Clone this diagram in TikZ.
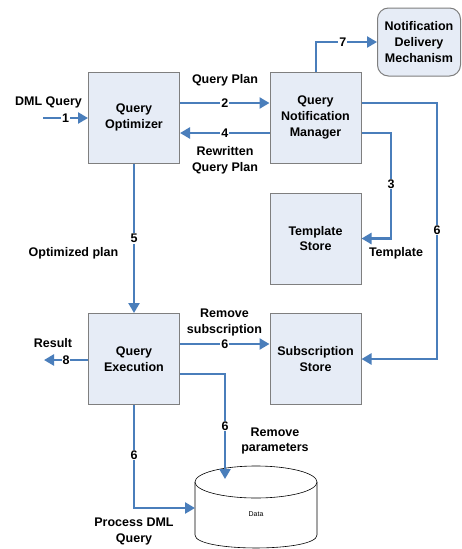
\documentclass[tikz,border=0pt]{standalone}
\usepackage{fontspec}
\setmainfont{Liberation Sans}
\usetikzlibrary{arrows.meta}
\definecolor{arrowblue}{HTML}{4A7EBB}
\definecolor{boxfill}{HTML}{E6ECF6}
\definecolor{boxline}{HTML}{7F7F7F}
\newcommand\dfont{\fontsize{12.5}{15.8}\selectfont\bfseries}
\newcommand\smallfont{\fontsize{7}{8}\selectfont}
\begin{document}
\begin{tikzpicture}[x=1pt,y=1pt,
  box/.style={draw=boxline, fill=boxfill, line width=1pt, minimum width=91pt, minimum height=91pt, align=center, font=\dfont, inner sep=0pt},
  conn/.style={draw=arrowblue, line width=2.6pt, -{Triangle[length=10pt,width=11pt]}},
  num/.style={fill=white, inner sep=1pt, font=\dfont},
  lbl/.style={align=center, font=\dfont, inner sep=0pt}]
\fill[white] (0,0) rectangle (461,-549);
\useasboundingbox (0,0) rectangle (461,-549);

% boxes
\node[box] (qo) at (134,-117.5) {Query\\Optimizer};
\node[box] (qnm) at (315.5,-117.5) {Query\\Notification\\Manager};
\node[box] (tpl) at (315.5,-238.5) {Template\\Store};
\node[box] (qe) at (134,-359) {Query\\Execution};
\node[box] (ss) at (315.5,-359) {Subscription\\Store};
\node[box, rounded corners=11pt, minimum width=83pt, minimum height=68pt] (nd) at (419,-42) {Notification\\Delivery\\Mechanism};

% data cylinder
\filldraw[draw=black, fill=white, line width=0.6pt] (195,-482) -- (195,-535) .. controls (195,-552.3) and (317,-552.3) .. (317,-535) -- (317,-482);
\draw[line width=0.6pt, fill=white] (256,-482) ellipse [x radius=61, y radius=16];
\node[font=\smallfont] (data) at (256,-514) {Data};
\coordinate (datat) at (225,-479);
\coordinate (datal) at (195,-508);

% connectors
\coordinate (in1) at (43,-118);
\draw[conn] (in1) -- (in1 -| qo.west) node[num, midway] (n1) {1};
\draw[conn] ([yshift=14.5pt]qo.east) -- ([yshift=14.5pt]qnm.west) node[num, midway] (n2) {2};
\draw[conn] ([yshift=-15.5pt]qnm.west) -- ([yshift=-15.5pt]qo.east) node[num, midway] (n4) {4};
\draw[conn] ([xshift=0.5pt]qnm.north) |- (nd.west) node[num, pos=0.72] (n7) {7};
\coordinate (c3) at (391,-184);
\draw[conn] ([yshift=-15.5pt]qnm.east) -| (c3) |- (tpl.east);
\node[num] (n3) at (c3) {3};
\coordinate (c6) at (437,-230);
\draw[conn] ([yshift=14.5pt]qnm.east) -| (c6) |- (ss.east);
\node[num] (n6a) at (c6) {6};
\draw[conn] (qo.south) -- (qe.north) node[num, midway] (n5) {5};
\draw[conn] ([yshift=15pt]qe.east) -- ([yshift=15pt]ss.west) node[num, midway] (n6b) {6};
\coordinate (c8) at (44,-360);
\draw[conn] ([yshift=-1pt]qe.west) -- (c8) node[num, midway] (n8) {8};
\draw[conn] ([yshift=-15pt]qe.east) -| (datat);
\node[num] (n6c) at (225,-426) {6};
\draw[conn] (qe.south) |- (datal);
\node[num] (n6d) at (134,-455) {6};

% labels
\node[lbl] (ldml) at (48.5,-102) {DML Query};
\node[lbl] (lqp) at (225,-80) {Query Plan};
\node[lbl] (lrqp) at (225,-160) {Rewritten\\Query Plan};
\node[lbl] (ltpl) at (396,-253) {Template};
\node[lbl] (lopt) at (73.5,-253) {Optimized plan};
\node[lbl] (lrs) at (224.5,-322.5) {Remove\\subscription};
\node[lbl] (lres) at (53,-343) {Result};
\node[lbl] (lrp) at (275,-441) {Remove\\parameters};
\node[lbl] (lpd) at (134,-531.5) {Process DML\\Query};
\end{tikzpicture}
\end{document}
